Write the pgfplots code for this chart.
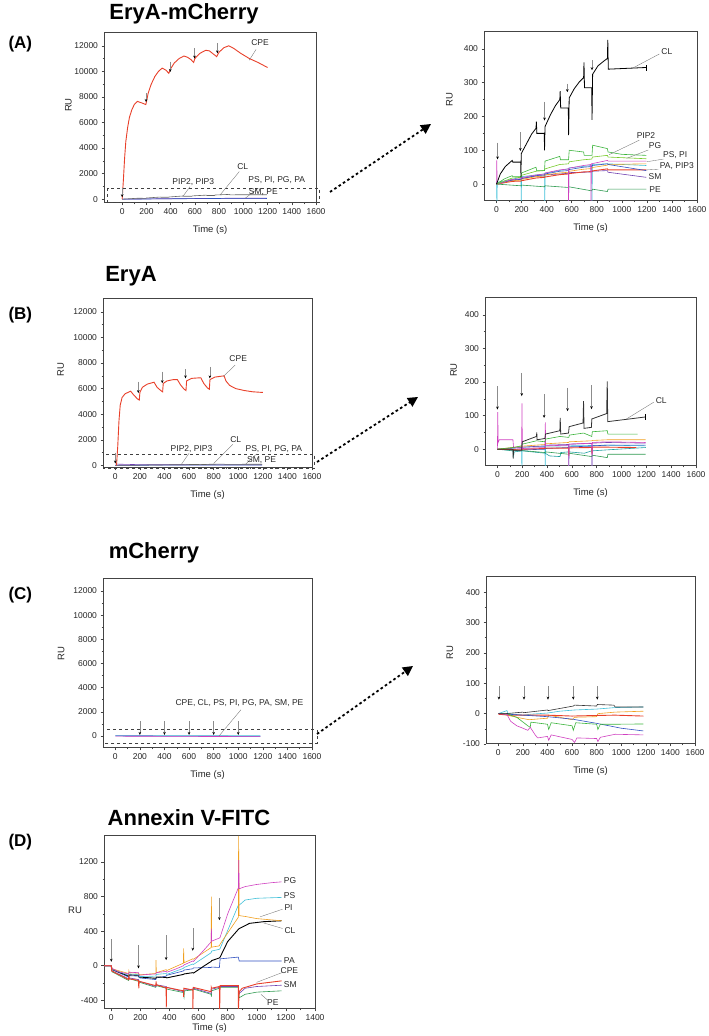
\documentclass[border=0pt]{standalone}
\usepackage{fontspec}
\setmainfont{Liberation Sans}
\usepackage{pgfplots}
\pgfplotsset{compat=1.18}
\usetikzlibrary{arrows.meta}
\definecolor{cRed}{HTML}{E8402A}
\definecolor{cGreen}{HTML}{3CB43C}
\definecolor{cDGreen}{HTML}{2E9A50}
\definecolor{cBlue}{HTML}{3050C0}
\definecolor{cCyan}{HTML}{40C0D8}
\definecolor{cMag}{HTML}{D040C0}
\definecolor{cOrange}{HTML}{F0A020}
\definecolor{cViolet}{HTML}{7040B0}
\definecolor{cTeal}{HTML}{20A0A0}
\definecolor{cFrame}{HTML}{444444}
\tikzset{
  lbl/.style={font=\fontsize{8.5}{10}\selectfont, text=black!85, inner sep=0.5pt},
  ldr/.style={black!55, line width=0.35pt},
  inj/.style={black!45, line width=0.5pt, -{Stealth[length=3pt,width=2.6pt,color=black]}},
}
\pgfplotsset{
  myax/.style={
    scale only axis,
    axis line style={cFrame, line width=1pt},
    tick pos=left, tick align=outside,
    minor tick num=1,
    major tick length=2.5pt, minor tick length=1.5pt,
    every tick/.style={cFrame, line width=0.5pt},
    ticklabel style={font=\fontsize{8.5}{9}\selectfont, text=black!85},
    label style={font=\fontsize{9.5}{11}\selectfont, text=black!85},
    xlabel={Time (s)}, ylabel={RU},
    xlabel style={at={(axis description cs:0.5,0)}, anchor=center, yshift=-27pt},
    scaled ticks=false,
    /pgf/number format/1000 sep={},
    /pgf/number format/assume math mode=true,
    clip mode=individual,
  },
  bigax/.style={myax, xmin=-150, xmax=1600, xtick={0,200,...,1600},
    ytick={0,2000,...,12000}},
  smallax/.style={myax, xmin=-100, xmax=1600, xtick={0,200,...,1600}},
  ln/.style={line width=0.6pt, no markers},
}
\begin{document}
\begin{tikzpicture}
\path[use as bounding box] (0,0) rectangle (709pt,1036pt);
% titles
\node[font=\fontsize{22}{24}\bfseries\selectfont] at (184pt,1022pt) {EryA-mCherry};
\node[font=\fontsize{22}{24}\bfseries\selectfont] at (131pt,760pt) {EryA};
\node[font=\fontsize{22}{24}\bfseries\selectfont] at (154pt,483pt) {mCherry};
\node[font=\fontsize{22}{24}\bfseries\selectfont] at (189pt,218pt) {Annexin V-FITC};
\node[font=\fontsize{17}{19}\bfseries\selectfont, anchor=west] at (5pt,992pt) {(A)};
\node[font=\fontsize{17}{19}\bfseries\selectfont, anchor=west] at (5pt,721pt) {(B)};
\node[font=\fontsize{17}{19}\bfseries\selectfont, anchor=west] at (5pt,441pt) {(C)};
\node[font=\fontsize{17}{19}\bfseries\selectfont, anchor=west] at (5pt,194pt) {(D)};
% dotted arrows
\begin{scope}[line width=1.8pt, dash pattern=on 2.6pt off 2.6pt, -{Triangle[length=10pt,width=10pt]}]
\draw (330pt,844pt) -- (431pt,912pt);
\draw (317pt,574pt) -- (418pt,639pt);
\draw (317pt,302pt) -- (413pt,370pt);
\end{scope}

%================ A left
\begin{axis}[bigax, at={(104pt,833pt)}, anchor=south west, width=212pt, height=170pt,
  ymin=-300, ymax=13000,
  ylabel style={at={(axis description cs:-0.168,0.576)}, anchor=center}]
\addplot[ln, cViolet] coordinates {(0,0)(300,30)(500,40)(700,55)(885,70)(1195,70)};
\addplot[ln, cBlue] coordinates {(0,0)(300,20)(600,40)(885,60)(1195,55)};
\addplot[ln, black!60] coordinates {(0,0)(125,70)(195,65)(200,90)(315,165)(320,150)(383,150)(387,170)(505,250)(510,225)(575,225)(580,255)(695,315)(700,285)(762,285)(767,325)(885,372)(890,340)(1195,345)};
\addplot[ln, cRed, line width=0.9pt] coordinates {(0,0)(10,1500)(20,3200)(30,4500)(45,5600)(60,6400)(80,7000)(100,7400)(125,7650)(140,7600)(170,7500)(195,7400)(200,7600)(215,8300)(240,9000)(270,9600)(300,10000)(330,10250)(360,10100)(385,9850)(400,10200)(430,10650)(470,11000)(510,11200)(540,11100)(570,10900)(590,10700)(600,11000)(640,11400)(690,11650)(720,11600)(760,11300)(780,11150)(800,11500)(840,11850)(880,12000)(920,11800)(980,11400)(1050,11000)(1120,10700)(1200,10300)};
\draw[inj] (axis cs:0,850) -- (axis cs:0,150);
\draw[inj] (axis cs:197,8300) -- (axis cs:197,7600);
\draw[inj] (axis cs:397,10750) -- (axis cs:397,9950);
\draw[inj] (axis cs:597,11800) -- (axis cs:597,11000);
\draw[inj] (axis cs:786,12200) -- (axis cs:786,11400);
\draw[black!75, dashed, line width=0.6pt] (axis cs:-120,-270) rectangle (axis cs:1630,850);
\node[lbl] at (axis cs:1138,12237) {CPE};
\draw[ldr] (axis cs:1105,11710) -- (axis cs:1049,10870);
\node[lbl] at (axis cs:995,2550) {CL};
\draw[ldr] (axis cs:967,2157) -- (axis cs:808,328);
\node[lbl] at (axis cs:587,1372) {PIP2, PIP3};
\draw[ldr] (axis cs:560,980) -- (axis cs:500,195);
\node[lbl] at (axis cs:1276,1505) {PS, PI, PG, PA};
\draw[ldr] (axis cs:1124,854) -- (axis cs:1014,60);
\node[lbl] at (axis cs:1165,587) {SM, PE};
\end{axis}

%================ A right
\begin{axis}[smallax, at={(484pt,835pt)}, anchor=south west, width=213pt, height=169pt,
  ymin=-50, ymax=450, ytick={0,100,...,400},
  ylabel style={at={(axis description cs:-0.162,0.598)}, anchor=center}]
\addplot[ln, cCyan] coordinates {(0,0)(3,-60)(6,5)(195,20)(197,-60)(200,22)(383,30)(385,-60)(388,32)(573,45)(575,-60)(578,48)(760,55)(762,-60)(765,58)(885,60)(1195,55)};
\addplot[ln, cDGreen] coordinates {(0,0)(195,-5)(200,-3)(383,-8)(387,-5)(573,-10)(577,-8)(760,-20)(765,-15)(885,-22)(890,-15)(1195,-15)};
\addplot[ln, cViolet] coordinates {(0,0)(125,12)(195,14)(200,16)(315,24)(383,24)(387,27)(505,30)(575,32)(580,34)(695,35)(760,36)(765,38)(885,40)(890,35)(1195,20)};
\addplot[ln, cRed, line width=0.9pt] coordinates {(0,0)(125,8)(195,9)(200,10)(315,18)(383,20)(387,21)(505,28)(575,30)(580,31)(695,36)(760,37)(765,39)(885,45)(890,42)(1195,42)};
\addplot[ln, cOrange] coordinates {(0,0)(125,10)(195,12)(200,14)(315,22)(383,24)(387,27)(505,33)(575,35)(580,38)(695,44)(760,46)(765,49)(885,56)(890,58)(1195,60)};
\addplot[ln, cBlue] coordinates {(0,0)(125,12)(195,14)(200,17)(315,25)(383,27)(387,30)(505,38)(575,40)(580,43)(695,50)(760,52)(765,55)(885,60)(890,58)(1195,40)};
\addplot[ln, cMag] coordinates {(0,0)(2,70)(5,0)(125,14)(195,16)(200,19)(315,27)(383,30)(387,33)(505,42)(573,45)(575,-60)(578,47)(695,55)(752,58)(754,-60)(757,60)(885,70)(890,68)(1195,68)};
\addplot[ln, cGreen!70!yellow] coordinates {(0,0)(125,18)(195,20)(200,26)(315,38)(383,40)(387,45)(505,58)(575,60)(580,66)(695,72)(760,74)(765,80)(885,85)(890,80)(1195,75)};
\addplot[ln, cGreen] coordinates {(0,0)(60,15)(125,25)(130,22)(195,22)(200,33)(315,50)(320,40)(383,40)(387,68)(505,82)(510,72)(575,72)(580,100)(695,95)(700,85)(762,85)(767,115)(885,105)(890,95)(1000,88)(1195,85)};
\addplot[ln, black, line width=0.8pt] coordinates {(0,0)(30,30)(70,52)(125,70)(130,65)(193,65)(195,20)(197,90)(240,120)(280,148)(315,165)(318,185)(322,150)(381,150)(383,100)(387,170)(430,205)(470,232)(505,250)(508,275)(512,225)(573,225)(575,145)(580,255)(620,282)(660,302)(695,315)(698,360)(702,285)(760,285)(762,190)(767,325)(810,350)(850,362)(885,372)(888,427)(892,340)(1195,345)};
\addplot[black, line width=0.8pt] coordinates {(1195,335)(1195,352)};
\draw[inj] (axis cs:8,123) -- (axis cs:8,73);
\draw[inj] (axis cs:190,153) -- (axis cs:190,98);
\draw[inj] (axis cs:383,243) -- (axis cs:383,188);
\draw[inj] (axis cs:565,297) -- (axis cs:565,272);
\draw[inj] (axis cs:762,367) -- (axis cs:762,337);
\node[lbl] at (axis cs:1359,392) {CL};
\draw[ldr] (axis cs:1300,385) -- (axis cs:1091,344);
\node[lbl] at (axis cs:1193,143) {PIP2};
\draw[ldr] (axis cs:1140,130) -- (axis cs:899,87);
\node[lbl] at (axis cs:1265,113) {PG};
\draw[ldr] (axis cs:1212,101) -- (axis cs:1038,76);
\node[lbl] at (axis cs:1426,86) {PS, PI};
\draw[ldr] (axis cs:1332,74) -- (axis cs:1198,66);
\node[lbl] at (axis cs:1439,52) {PA, PIP3};
\draw[ldr] (axis cs:1292,44) -- (axis cs:1198,42);
\node[lbl] at (axis cs:1265,22) {SM};
\node[lbl] at (axis cs:1265,-17) {PE};
\end{axis}

%================ B left
\begin{axis}[smallax, ytick={0,2000,...,12000}, at={(103pt,568pt)}, anchor=south west, width=209pt, height=169pt,
  ymin=-200, ymax=13000,
  ylabel style={at={(axis description cs:-0.203,0.58)}, anchor=center}]
\addplot[ln, cViolet] coordinates {(0,0)(10,100)(200,60)(600,50)(1195,40)};
\addplot[ln, cBlue] coordinates {(0,0)(300,20)(700,30)(1195,30)};
\addplot[ln, black!60] coordinates {(0,0)(195,0)(200,22)(315,38)(383,32)(387,45)(505,55)(575,48)(580,67)(695,78)(760,65)(765,90)(885,105)(890,82)(1195,96)};
\addplot[ln, cRed, line width=0.9pt] coordinates {(10,0)(20,1500)(30,3500)(40,4700)(55,5300)(80,5600)(125,5800)(150,5500)(180,5200)(195,5100)(200,5700)(220,6100)(260,6350)(315,6500)(340,6100)(370,5850)(385,5750)(390,6400)(420,6600)(470,6700)(505,6700)(530,6300)(560,5950)(575,5850)(580,6600)(620,6800)(695,6850)(720,6400)(750,6050)(765,5950)(770,6700)(810,6900)(885,7000)(900,6600)(930,6250)(980,6000)(1050,5850)(1120,5750)(1200,5700)};
\draw[inj] (axis cs:0,1000) -- (axis cs:0,150);
\draw[inj] (axis cs:187,6550) -- (axis cs:187,5650);
\draw[inj] (axis cs:382,7320) -- (axis cs:382,6420);
\draw[inj] (axis cs:571,7500) -- (axis cs:571,6800);
\draw[inj] (axis cs:769,7700) -- (axis cs:769,6800);
\draw[black!75, dashed, line width=0.6pt] (axis cs:-100,-250) rectangle (axis cs:1620,900);
\node[lbl] at (axis cs:1000,8350) {CPE};
\draw[ldr] (axis cs:975,7850) -- (axis cs:880,6950);
\node[lbl] at (axis cs:980,2020) {CL};
\draw[ldr] (axis cs:955,1650) -- (axis cs:800,150);
\node[lbl] at (axis cs:620,1300) {PIP2, PIP3};
\draw[ldr] (axis cs:600,950) -- (axis cs:540,120);
\node[lbl] at (axis cs:1290,1300) {PS, PI, PG, PA};
\draw[ldr] (axis cs:1150,900) -- (axis cs:1060,100);
\node[lbl] at (axis cs:1190,380) {SM, PE};
\end{axis}

%================ B right
\begin{axis}[smallax, at={(485pt,570pt)}, anchor=south west, width=211pt, height=168pt,
  ymin=-50, ymax=450, ytick={0,100,...,400},
  ylabel style={at={(axis description cs:-0.149,0.571)}, anchor=center}]
\addplot[ln, cCyan] coordinates {(0,0)(195,5)(197,-60)(200,6)(383,8)(385,-60)(388,9)(573,10)(575,-60)(578,10)(760,11)(762,-60)(765,11)(885,12)(1195,10)};
\addplot[ln, cTeal] coordinates {(0,0)(125,-5)(130,-20)(135,-8)(200,-5)(385,-12)(420,-20)(505,-22)(510,-10)(575,-8)(700,-12)(760,-5)(885,-2)(1195,5)};
\addplot[ln, cDGreen] coordinates {(0,0)(195,-5)(200,-4)(383,-10)(387,-8)(573,-15)(577,-12)(760,-22)(765,-18)(885,-25)(890,-15)(1195,-15)};
\addplot[ln, cBlue] coordinates {(0,0)(195,-3)(200,-2)(383,0)(387,2)(573,5)(577,7)(760,9)(765,10)(885,12)(1195,12)};
\addplot[ln, cViolet] coordinates {(0,0)(195,5)(200,6)(383,10)(387,12)(573,14)(577,15)(760,17)(765,18)(885,20)(1195,18)};
\addplot[ln, cOrange] coordinates {(0,0)(195,8)(200,9)(383,14)(387,16)(573,20)(577,22)(760,25)(765,26)(885,28)(1195,28)};
\addplot[ln, cRed, line width=0.9pt] coordinates {(0,0)(195,-2)(200,0)(383,2)(387,3)(573,3)(575,-20)(577,4)(760,5)(762,-15)(765,6)(885,6)(1120,5)};
\addplot[ln, cMag] coordinates {(0,0)(3,110)(6,20)(15,28)(125,28)(130,5)(195,2)(198,136)(201,2)(383,5)(386,80)(389,10)(573,12)(575,-60)(578,15)(760,18)(762,-60)(765,20)(885,22)(1195,20)};
\addplot[ln, cGreen] coordinates {(0,0)(125,5)(195,10)(200,15)(315,25)(383,22)(387,30)(505,38)(575,35)(580,42)(695,48)(760,38)(765,52)(885,55)(890,45)(1130,45)};
\addplot[ln, black!80, line width=0.8pt] coordinates {(0,0)(125,0)(127,-28)(130,-3)(195,-3)(200,22)(315,38)(317,50)(320,28)(383,32)(387,45)(503,55)(506,93)(510,45)(573,48)(578,67)(690,78)(694,143)(698,62)(757,65)(761,90)(880,106)(885,202)(889,82)(1195,96)};
\addplot[black, line width=0.8pt] coordinates {(1195,88)(1195,104)};
\draw[inj] (axis cs:0,188) -- (axis cs:0,118);
\draw[inj] (axis cs:196,227) -- (axis cs:196,158);
\draw[inj] (axis cs:376,163) -- (axis cs:376,93);
\draw[inj] (axis cs:565,183) -- (axis cs:565,113);
\draw[inj] (axis cs:758,190) -- (axis cs:758,119);
\node[lbl] at (axis cs:1320,146) {CL};
\draw[ldr] (axis cs:1260,140) -- (axis cs:1040,90);
\end{axis}

%================ C left
\begin{axis}[smallax, ytick={0,2000,...,12000}, at={(103pt,288pt)}, anchor=south west, width=209pt, height=169pt,
  ymin=-1000, ymax=13000,
  ylabel style={at={(axis description cs:-0.2,0.56)}, anchor=center}]
\addplot[ln, cCyan] coordinates {(0,20)(1180,30)};
\addplot[ln, cBlue] coordinates {(0,0)(1180,-40)};
\addplot[ln, cMag] coordinates {(0,-20)(1180,-60)};
\draw[inj] (axis cs:200,1200) -- (axis cs:200,80);
\draw[inj] (axis cs:400,1200) -- (axis cs:400,80);
\draw[inj] (axis cs:600,1200) -- (axis cs:600,80);
\draw[inj] (axis cs:800,1200) -- (axis cs:800,80);
\draw[inj] (axis cs:1000,1200) -- (axis cs:1000,80);
\draw[black!75, dashed, line width=0.6pt] (axis cs:-100,-620) rectangle (axis cs:1640,520);
\node[lbl] at (axis cs:1010,2750) {CPE, CL, PS, PI, PG, PA, SM, PE};
\draw[ldr] (axis cs:1022,2166) -- (axis cs:844,0);
\end{axis}

%================ C right
\begin{axis}[smallax, at={(486pt,292pt)}, anchor=south west, width=209pt, height=167pt,
  ymin=-100, ymax=450, ytick={-100,0,...,400},
  ylabel style={at={(axis description cs:-0.173,0.55)}, anchor=center}]
\addplot[ln, cCyan] coordinates {(0,0)(70,10)(80,0)(200,-5)(260,-2)(400,2)(500,8)(620,12)(800,15)(950,20)(1180,22)};
\addplot[ln, cOrange] coordinates {(0,0)(70,-5)(150,-12)(250,-20)(400,-15)(410,-5)(500,-12)(600,-20)(620,-12)(800,-10)(810,0)(950,5)(1180,8)};
\addplot[ln, cRed, line width=0.9pt] coordinates {(0,-2)(100,-5)(250,-5)(400,-5)(600,-8)(800,-6)(950,-5)(1180,-8)};
\addplot[ln, cBlue] coordinates {(0,0)(200,-5)(400,-10)(600,-18)(800,-32)(1000,-48)(1180,-57)};
\addplot[ln, cGreen] coordinates {(0,0)(70,0)(100,-5)(150,-12)(240,-40)(260,-45)(265,-28)(400,-35)(410,-52)(430,-30)(600,-40)(610,-55)(630,-30)(800,-35)(810,-52)(830,-35)(950,-35)(1180,-34)};
\addplot[ln, cMag] coordinates {(0,0)(70,-2)(100,-25)(150,-40)(200,-48)(240,-55)(260,-45)(300,-70)(320,-80)(400,-75)(410,-88)(430,-70)(600,-85)(620,-95)(640,-80)(800,-82)(810,-92)(830,-78)(950,-68)(1180,-70)};
\addplot[ln, black!80] coordinates {(0,0)(60,0)(200,5)(205,3)(400,12)(405,10)(610,25)(620,28)(800,25)(805,30)(940,28)(950,22)(1180,22)};
\draw[inj] (axis cs:5,90) -- (axis cs:5,46);
\draw[inj] (axis cs:209,90) -- (axis cs:209,46);
\draw[inj] (axis cs:404,90) -- (axis cs:404,46);
\draw[inj] (axis cs:610,90) -- (axis cs:610,46);
\draw[inj] (axis cs:805,90) -- (axis cs:805,46);
\end{axis}

%================ D
\begin{axis}[myax, at={(104pt,27pt)}, anchor=south west, width=211pt, height=173pt,
  xmin=-50, xmax=1400, xtick={0,200,...,1400},
  ymin=-500, ymax=1500, ytick={-400,0,400,800,1200},
  xlabel style={yshift=8pt},
  ylabel style={at={(axis description cs:-0.137,0.569)}, anchor=center, rotate=-90}]
\addplot[ln, cDGreen] coordinates {(-50,0)(0,0)(5,-70)(119,-170)(123,-150)(187,-180)(192,-190)(306,-250)(310,-230)(377,-260)(382,-270)(496,-310)(500,-360)(503,-290)(560,-280)(565,-270)(686,-330)(688,-360)(690,-290)(743,-260)(748,-250)(873,-250)(879,-370)(920,-330)(1000,-305)(1170,-290)};
\addplot[ln, cViolet] coordinates {(-50,0)(0,0)(5,-60)(119,-150)(123,-140)(187,-160)(192,-180)(306,-240)(310,-220)(377,-240)(382,-250)(496,-300)(500,-280)(560,-270)(565,-260)(686,-320)(690,-270)(743,-250)(748,-240)(873,-240)(879,-320)(920,-260)(1000,-240)(1170,-225)};
\addplot[ln, cBlue] coordinates {(-50,0)(0,0)(5,-45)(119,-130)(123,-115)(187,-120)(192,-140)(306,-160)(310,-140)(377,-120)(382,-110)(496,-60)(500,-50)(560,-35)(565,-25)(686,-20)(690,-15)(743,-20)(748,80)(873,100)(879,55)(950,55)(1170,55)};
\addplot[ln, black, line width=0.9pt] coordinates {(-50,0)(0,0)(5,-40)(119,-120)(123,-105)(187,-110)(192,-130)(306,-145)(310,-130)(377,-135)(382,-140)(496,-100)(500,-95)(560,-80)(565,-85)(640,0)(686,50)(690,60)(743,90)(748,100)(800,280)(873,420)(879,430)(950,490)(1050,510)(1170,520)};
\addplot[ln, cCyan] coordinates {(-50,0)(0,0)(5,-40)(119,-110)(123,-95)(187,-100)(192,-125)(306,-120)(310,-100)(377,-90)(382,-100)(496,-30)(500,-20)(560,20)(565,15)(686,150)(690,170)(743,190)(748,200)(873,700)(879,700)(920,760)(1000,780)(1170,790)};
\addplot[ln, cOrange] coordinates {(-50,0)(0,0)(5,-35)(119,-90)(121,-60)(123,-80)(187,-85)(192,-105)(306,-90)(307,65)(310,-80)(377,-45)(382,-55)(496,30)(497,200)(500,35)(560,80)(565,75)(686,210)(688,800)(690,215)(743,230)(748,250)(873,560)(875,1500)(879,580)(920,570)(1000,545)(1170,520)};
\addplot[ln, cMag] coordinates {(-50,0)(0,0)(5,-30)(50,-70)(119,-95)(123,-75)(187,-80)(192,-110)(250,-100)(306,-95)(310,-80)(377,-65)(382,-75)(440,-40)(496,0)(500,10)(560,55)(565,50)(620,150)(686,275)(688,430)(690,285)(743,320)(748,330)(800,600)(873,900)(876,1220)(879,890)(920,915)(1000,940)(1100,960)(1170,970)};
\addplot[ln, cRed, line width=0.9pt] coordinates {(-50,0)(0,0)(3,-60)(119,-160)(121,-100)(123,-150)(187,-170)(189,-260)(192,-180)(306,-230)(308,-180)(310,-220)(377,-255)(378,-480)(380,-250)(496,-290)(497,-360)(499,-260)(560,-280)(561,-500)(563,-250)(686,-300)(687,-250)(689,-260)(743,-240)(745,-500)(748,-230)(873,-230)(874,-500)(879,-300)(900,-260)(1000,-210)(1170,-175)};
\draw[inj] (axis cs:0,304) -- (axis cs:0,46);
\draw[inj] (axis cs:187,238) -- (axis cs:187,-31);
\draw[inj] (axis cs:377,354) -- (axis cs:377,65);
\draw[inj] (axis cs:560,431) -- (axis cs:560,173);
\draw[inj] (axis cs:743,785) -- (axis cs:743,527);
\node[lbl, anchor=west] at (axis cs:1182,981) {PG};
\node[lbl, anchor=west] at (axis cs:1182,808) {PS};
\node[lbl, anchor=west] at (axis cs:1186,673) {PI};
\draw[ldr] (axis cs:1177,654) -- (axis cs:1022,565);
\node[lbl, anchor=west] at (axis cs:1186,412) {CL};
\draw[ldr] (axis cs:1177,431) -- (axis cs:1045,496);
\node[lbl, anchor=west] at (axis cs:1182,65) {PA};
\node[lbl, anchor=west] at (axis cs:1159,-58) {CPE};
\draw[ldr] (axis cs:1177,-77) -- (axis cs:999,-192);
\node[lbl, anchor=west] at (axis cs:1182,-212) {SM};
\node[lbl, anchor=west] at (axis cs:1067,-427) {PE};
\draw[ldr] (axis cs:1079,-404) -- (axis cs:1029,-331);
\end{axis}
\end{tikzpicture}
\end{document}
